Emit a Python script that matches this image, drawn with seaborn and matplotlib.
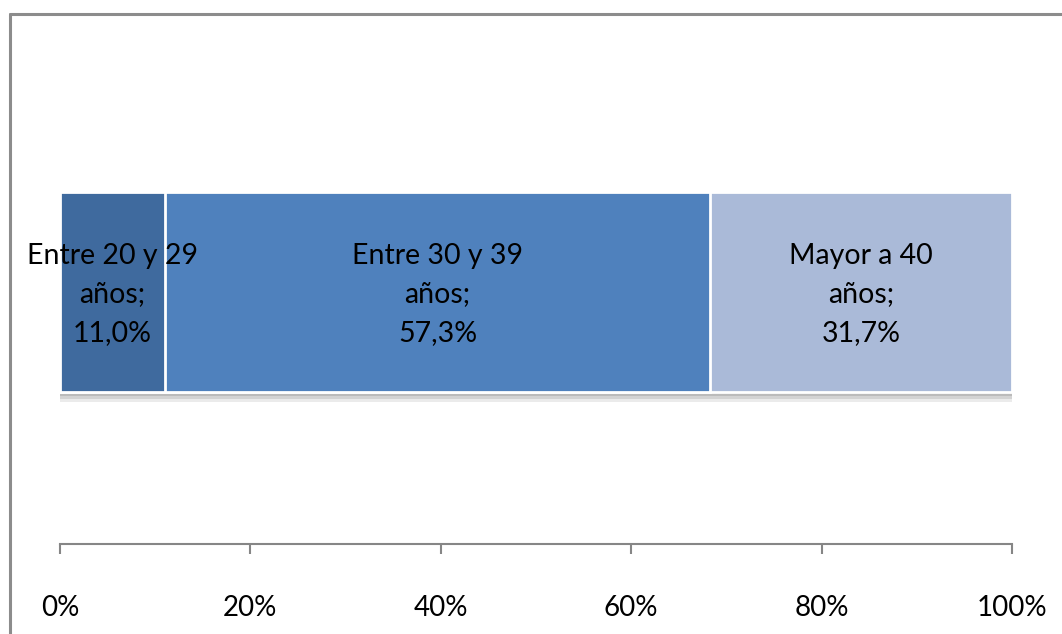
import matplotlib
matplotlib.use("Agg")
import matplotlib.pyplot as plt
from matplotlib.lines import Line2D
import numpy as np
import pandas as pd
import seaborn as sns

# Age groups and their share of the total (%)
groups = ["Entre 20 y 29 años", "Entre 30 y 39 años", "Mayor a 40 años"]
label_lines = ["Entre 20 y 29\naños;", "Entre 30 y 39\naños;", "Mayor a 40\naños;"]
shares = [11.0, 57.3, 31.7]
colors = ["#3F6A9E", "#4F81BD", "#AABAD8"]
tick_values = [0, 20, 40, 60, 80, 100]
tick_labels = ["0%", "20%", "40%", "60%", "80%", "100%"]

sns.set_theme(style="white")
plt.rcParams["font.family"] = ["Lato", "DejaVu Sans"]

W, H = 1062, 634
fig = plt.figure(figsize=(W / 100, H / 100), dpi=100)
ax = fig.add_axes([60 / W, 1 - 544 / H, 952 / W, 504 / H])

cum = np.cumsum(shares)
lefts = cum - np.array(shares)
bar_h = 0.79

# soft shadow under the whole bar
for off, a in [(0.04, 0.15), (0.028, 0.22), (0.016, 0.28)]:
    ax.barh([0 + off], [cum[-1]], height=bar_h, color="#7f7f7f", alpha=a,
            edgecolor="none", zorder=1)

# stacked bar: draw cumulative totals from largest to smallest
df = pd.DataFrame({"cat": ["x"] * len(groups), "cum": cum, "grp": groups})
for i in reversed(range(len(groups))):
    sns.barplot(data=df.iloc[[i]], x="cum", y="cat", orient="h", color=colors[i],
                width=bar_h, edgecolor="white", linewidth=2, saturation=1,
                ax=ax, zorder=2)

for left, share, text in zip(lefts, shares, label_lines):
    label = f"{text}\n{share:.1f}%".replace(".", ",")
    ax.text(left + share / 2, 0.01, label, ha="center", va="center",
            fontsize=20.5, color="black", linespacing=1.6, zorder=5)

ax.set_xlim(0, 100)
ax.set_ylim(1, -1)
ax.set_xticks(tick_values)
ax.set_xticklabels(tick_labels)
ax.set_yticks([])
ax.set_xlabel("")
ax.set_ylabel("")
for side in ["left", "right", "top"]:
    ax.spines[side].set_visible(False)
ax.spines["bottom"].set_color("#868686")
ax.spines["bottom"].set_linewidth(1.5)
ax.tick_params(axis="x", bottom=True, direction="out", length=7, width=1.5,
               color="#868686", pad=30, labelsize=20, labelcolor="black")

# chart-area frame
fig.add_artist(Line2D([10 / W, 10 / W], [0, 1 - 14 / H], color="#8c8c8c",
                      lw=2.2, transform=fig.transFigure))
fig.add_artist(Line2D([10 / W, 1], [1 - 14 / H, 1 - 14 / H], color="#8c8c8c",
                      lw=2.2, transform=fig.transFigure))

fig.savefig("out.png", dpi=100)
